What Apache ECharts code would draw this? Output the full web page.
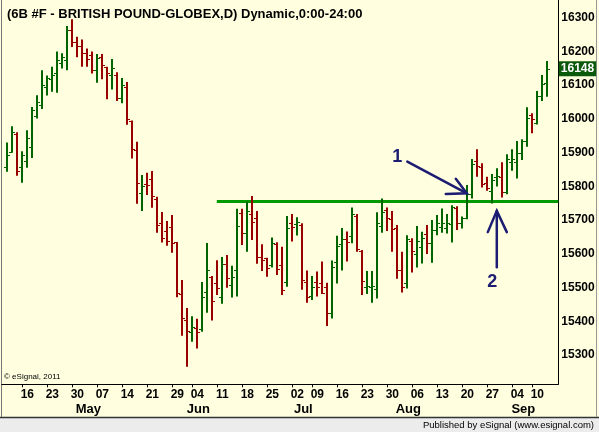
<!DOCTYPE html>
<html>
<head>
<meta charset="utf-8">
<script src="https://cdn.jsdelivr.net/npm/echarts@6/dist/echarts.min.js"></script>
<style>
  html, body { margin: 0; padding: 0; background: #ffffe0; }
  #chart { width: 599px; height: 432px; }
</style>
</head>
<body>
<div id="chart"></div>
<script>
// trading days (6B front month, daily bars)
const dates = [
  '2012-04-10', '2012-04-11', '2012-04-12', '2012-04-13',
  '2012-04-16', '2012-04-17', '2012-04-18', '2012-04-19', '2012-04-20',
  '2012-04-23', '2012-04-24', '2012-04-25', '2012-04-26', '2012-04-27',
  '2012-04-30', '2012-05-01', '2012-05-02', '2012-05-03', '2012-05-04',
  '2012-05-07', '2012-05-08', '2012-05-09', '2012-05-10', '2012-05-11',
  '2012-05-14', '2012-05-15', '2012-05-16', '2012-05-17', '2012-05-18',
  '2012-05-21', '2012-05-22', '2012-05-23', '2012-05-24', '2012-05-25',
  '2012-05-29', '2012-05-30', '2012-05-31', '2012-06-01',
  '2012-06-04', '2012-06-05', '2012-06-06', '2012-06-07', '2012-06-08',
  '2012-06-11', '2012-06-12', '2012-06-13', '2012-06-14', '2012-06-15',
  '2012-06-18', '2012-06-19', '2012-06-20', '2012-06-21', '2012-06-22',
  '2012-06-25', '2012-06-26', '2012-06-27', '2012-06-28', '2012-06-29',
  '2012-07-02', '2012-07-03', '2012-07-05', '2012-07-06',
  '2012-07-09', '2012-07-10', '2012-07-11', '2012-07-12', '2012-07-13',
  '2012-07-16', '2012-07-17', '2012-07-18', '2012-07-19', '2012-07-20',
  '2012-07-23', '2012-07-24', '2012-07-25', '2012-07-26', '2012-07-27',
  '2012-07-30', '2012-07-31', '2012-08-01', '2012-08-02', '2012-08-03',
  '2012-08-06', '2012-08-07', '2012-08-08', '2012-08-09', '2012-08-10',
  '2012-08-13', '2012-08-14', '2012-08-15', '2012-08-16', '2012-08-17',
  '2012-08-20', '2012-08-21', '2012-08-22', '2012-08-23', '2012-08-24',
  '2012-08-27', '2012-08-28', '2012-08-29', '2012-08-30', '2012-08-31',
  '2012-09-04', '2012-09-05', '2012-09-06', '2012-09-07',
  '2012-09-10', '2012-09-11', '2012-09-12'
]

const opens = [
  15858, 15902, 15956, 15858, 15875, 15917, 16008, 16042, 16095, 16117,
  16137, 16164, 16174, 16263, 16228, 16215, 16194, 16189, 16146, 16184,
  16152, 16130, 16130, 16063, 16093, 15993, 15907, 15779, 15807, 15821,
  15761, 15690, 15667, 15678, 15634, 15480, 15403, 15367, 15379, 15376,
  15488, 15532, 15512, 15471, 15569, 15506, 15551, 15720, 15660, 15717,
  15705, 15589, 15586, 15566, 15628, 15566, 15515, 15690, 15687, 15685,
  15515, 15475, 15515, 15512, 15500, 15425, 15574, 15629, 15643, 15653,
  15712, 15608, 15500, 15502, 15495, 15682, 15730, 15702, 15675, 15552,
  15512, 15639, 15599, 15621, 15657, 15633, 15670, 15678, 15677, 15688,
  15737, 15692, 15707, 15776, 15875, 15856, 15811, 15786, 15826, 15826,
  15782, 15872, 15871, 15900, 15934, 16012, 15988, 16067, 16105
]
const highs = [
  15930, 15978, 15960, 15904, 15966, 16035, 16070, 16144, 16128, 16154,
  16199, 16194, 16275, 16295, 16243, 16235, 16208, 16199, 16192, 16192,
  16154, 16177, 16138, 16121, 16109, 15995, 15932, 15833, 15840, 15845,
  15769, 15724, 15697, 15715, 15635, 15522, 15439, 15415, 15407, 15516,
  15632, 15534, 15581, 15590, 15596, 15564, 15733, 15733, 15754, 15771,
  15727, 15628, 15588, 15648, 15634, 15621, 15712, 15718, 15708, 15690,
  15550, 15534, 15547, 15577, 15514, 15580, 15653, 15676, 15666, 15737,
  15718, 15611, 15549, 15549, 15723, 15764, 15737, 15727, 15685, 15606,
  15655, 15646, 15682, 15665, 15685, 15700, 15715, 15734, 15718, 15744,
  15741, 15710, 15804, 15881, 15910, 15868, 15828, 15836, 15853, 15871,
  15895, 15910, 15934, 15939, 16034, 16016, 16082, 16130, 16171
]
const lows = [
  15843, 15899, 15831, 15810, 15855, 15884, 16001, 16029, 16069, 16080,
  16077, 16149, 16144, 16213, 16182, 16154, 16154, 16134, 16107, 16117,
  16058, 16087, 16053, 16046, 15982, 15882, 15748, 15727, 15774, 15736,
  15662, 15633, 15624, 15603, 15471, 15357, 15265, 15339, 15319, 15369,
  15425, 15402, 15478, 15452, 15499, 15470, 15473, 15626, 15606, 15641,
  15570, 15549, 15532, 15559, 15537, 15478, 15502, 15636, 15654, 15493,
  15455, 15463, 15473, 15481, 15386, 15408, 15512, 15550, 15577, 15631,
  15606, 15478, 15481, 15455, 15467, 15662, 15667, 15606, 15526, 15485,
  15497, 15544, 15559, 15571, 15599, 15573, 15655, 15662, 15660, 15633,
  15670, 15675, 15702, 15764, 15828, 15796, 15787, 15749, 15799, 15767,
  15776, 15846, 15823, 15878, 15917, 15957, 15983, 16053, 16065
]
const closes = [
  15894, 15961, 15844, 15892, 15942, 16026, 16049, 16100, 16121, 16129,
  16174, 16184, 16263, 16228, 16215, 16194, 16176, 16144, 16179, 16159,
  16137, 16149, 16063, 16099, 16000, 15909, 15811, 15801, 15803, 15771,
  15685, 15648, 15639, 15632, 15483, 15409, 15371, 15384, 15367, 15471,
  15551, 15459, 15497, 15569, 15527, 15530, 15681, 15660, 15727, 15693,
  15589, 15580, 15557, 15631, 15554, 15492, 15675, 15680, 15693, 15522,
  15471, 15500, 15500, 15483, 15425, 15562, 15623, 15643, 15636, 15718,
  15613, 15519, 15504, 15505, 15690, 15723, 15705, 15672, 15552, 15500,
  15643, 15608, 15638, 15646, 15633, 15670, 15690, 15692, 15690, 15739,
  15690, 15707, 15777, 15865, 15860, 15806, 15796, 15818, 15830, 15784,
  15880, 15880, 15900, 15934, 16001, 15998, 16067, 16102, 16148
]

const priceTicks = [15300, 15400, 15500, 15600, 15700, 15800, 15900, 16000, 16100, 16200, 16300]
const monthNames = ['Jan', 'Feb', 'Mar', 'Apr', 'May', 'Jun', 'Jul', 'Aug', 'Sep', 'Oct', 'Nov', 'Dec']

// drawn annotations (x = bar index, y = price)
const supportLevel = 15755
const supportFrom = 41.9
const arrowTails = [[80.0, 15873], [97.9, 15560]]
const arrowTips = [[91.9, 15779], [97.9, 15727]]
const arrowBarbsA = [[89.7, 15822], [96.1, 15664]]
const arrowBarbsB = [[87.7, 15777], [99.9, 15664]]
const arrowTexts = ['1', '2']
const arrowTextAt = [[78.0, 15888], [97.0, 15515]]

const X_MIN = -1.1
const X_MAX = 110.2
const UP = '#006400'
const DOWN = '#990000'
const NAVY = '#1c1c72'
const FONT = 'Liberation Sans, Arial, sans-serif'

const dow = d => new Date(d + 'T00:00:00Z').getUTCDay()
const mon = d => Number(d.slice(5, 7)) - 1
const weekStarts = []
const monthStarts = []
dates.forEach((d, i) => {
  if (i === 0) return
  if (dow(d) < dow(dates[i - 1])) weekStarts.push(i)
  if (mon(d) !== mon(dates[i - 1])) monthStarts.push(i)
})
const MONTH_SHIFT = 1.2

const bars = dates.map((d, i) => [i, opens[i], highs[i], lows[i], closes[i]])
const last = closes.length - 1

const chart = echarts.init(document.getElementById('chart'), null, { renderer: 'canvas' })

chart.setOption({
  backgroundColor: '#ffffe0',
  animation: false,
  title: {
    text: '(6B #F - BRITISH POUND-GLOBEX,D) Dynamic,0:00-24:00',
    left: 2,
    top: 3,
    textStyle: { fontFamily: FONT, fontWeight: 'bold', fontSize: 13, color: '#000' }
  },
  grid: { left: 1.8, right: 40.7, top: 0, bottom: 47.7, containLabel: false },
  xAxis: [
    {
      type: 'value',
      min: X_MIN,
      max: X_MAX,
      position: 'bottom',
      splitLine: { show: false },
      axisLine: { show: true, onZero: false, lineStyle: { color: '#000', width: 1 } },
      axisTick: { show: true, length: 3, customValues: weekStarts.map(i => i - 1), lineStyle: { color: '#000' } },
      axisLabel: {
        customValues: weekStarts,
        margin: 4,
        color: '#000',
        fontFamily: FONT,
        fontWeight: 'bold',
        fontSize: 12,
        formatter: v => dates[Math.round(v)].slice(8, 10)
      }
    },
    {
      type: 'value',
      min: X_MIN,
      max: X_MAX,
      position: 'bottom',
      offset: 15,
      splitLine: { show: false },
      axisLine: { show: false },
      axisTick: { show: false },
      axisLabel: {
        customValues: monthStarts.map(i => i + MONTH_SHIFT),
        margin: 4,
        color: '#000',
        fontFamily: FONT,
        fontWeight: 'bold',
        fontSize: 13,
        formatter: v => monthNames[mon(dates[Math.round(v - MONTH_SHIFT)])]
      }
    }
  ],
  yAxis: {
    type: 'value',
    position: 'right',
    min: 15213,
    max: 16352,
    splitLine: { show: false },
    axisLine: { show: true, onZero: false, lineStyle: { color: '#000', width: 1 } },
    axisTick: { show: false },
    axisLabel: {
      customValues: priceTicks,
      margin: 3,
      color: '#000',
      fontFamily: FONT,
      fontWeight: 'bold',
      fontSize: 12,
      formatter: v => String(v)
    }
  },
  series: [
    {
      name: 'support',
      type: 'line',
      data: [[supportFrom, supportLevel], [X_MAX, supportLevel]],
      symbol: 'none',
      silent: true,
      z: 1,
      lineStyle: { color: '#009a00', width: 3 }
    },
    {
      name: '6B',
      type: 'custom',
      data: bars,
      encode: { x: 0, y: [1, 2, 3, 4] },
      z: 2,
      renderItem: (params, api) => {
        const i = api.value(0)
        const o = api.value(1)
        const c = api.value(4)
        const hi = api.coord([i, api.value(2)])
        const lo = api.coord([i, api.value(3)])
        const po = api.coord([i, o])
        const pc = api.coord([i, c])
        const x = Math.round(hi[0])
        const color = c >= o ? UP : DOWN
        const yo = Math.round(po[1]) + 0.5
        const yc = Math.round(pc[1]) + 0.5
        return {
          type: 'group',
          children: [
            { type: 'line', shape: { x1: x, y1: hi[1], x2: x, y2: lo[1] }, style: { stroke: color, lineWidth: 2 } },
            { type: 'line', shape: { x1: x - 3, y1: yo, x2: x, y2: yo }, style: { stroke: color, lineWidth: 1 } },
            { type: 'line', shape: { x1: x, y1: yc, x2: x + 3, y2: yc }, style: { stroke: color, lineWidth: 1 } }
          ]
        }
      }
    },
    {
      name: 'arrows',
      type: 'custom',
      data: arrowTips,
      encode: { x: 0, y: 1 },
      z: 5,
      silent: true,
      renderItem: (params, api) => {
        const k = params.dataIndex
        const tail = api.coord(arrowTails[k])
        const tip = api.coord(arrowTips[k])
        const ba = api.coord(arrowBarbsA[k])
        const bb = api.coord(arrowBarbsB[k])
        const tp = api.coord(arrowTextAt[k])
        const st = { stroke: NAVY, lineWidth: 2.5, fill: null, lineCap: 'round' }
        return {
          type: 'group',
          children: [
            { type: 'polyline', shape: { points: [tail, tip] }, style: st },
            { type: 'polyline', shape: { points: [ba, tip, bb] }, style: st },
            {
              type: 'text',
              x: tp[0],
              y: tp[1],
              style: {
                text: arrowTexts[k],
                fill: NAVY,
                font: 'bold 18px ' + FONT,
                align: 'center',
                verticalAlign: 'middle'
              }
            }
          ]
        }
      }
    }
  ]
})

// last price tag on the price scale, placed through the axis
const tagY = chart.convertToPixel({ yAxisIndex: 0 }, closes[last])
const axisX = chart.convertToPixel({ xAxisIndex: 0 }, X_MAX)

chart.setOption({
  graphic: [
    { type: 'rect', shape: { x: 0, y: 418, width: 599, height: 14 }, style: { fill: '#ececec' }, silent: true },
    { type: 'line', shape: { x1: 0, y1: 417.5, x2: 599, y2: 417.5 }, style: { stroke: '#333', lineWidth: 1.5 }, silent: true },
    { type: 'line', shape: { x1: 1.5, y1: 0, x2: 1.5, y2: 417 }, style: { stroke: '#777', lineWidth: 1 }, silent: true },
    { type: 'line', shape: { x1: 596.5, y1: 0, x2: 596.5, y2: 417 }, style: { stroke: '#999', lineWidth: 1 }, silent: true },
    {
      type: 'text', x: axisX + 0.5, y: tagY, silent: true, z: 10,
      style: {
        text: String(closes[last]),
        fill: '#ffffff',
        backgroundColor: '#0b5a0b',
        font: 'bold 12px ' + FONT,
        padding: [2, 2, 1, 2],
        align: 'left',
        verticalAlign: 'middle'
      }
    },
    {
      type: 'text', left: 4, top: 373, silent: true,
      style: { text: '\u00a9 eSignal, 2011', fill: '#000', font: '8px ' + FONT }
    },
    {
      type: 'text', right: 5, top: 420, silent: true,
      style: { text: 'Published by eSignal (www.esignal.com)', fill: '#000', font: '9.5px ' + FONT }
    }
  ]
})
</script>
</body>
</html>
